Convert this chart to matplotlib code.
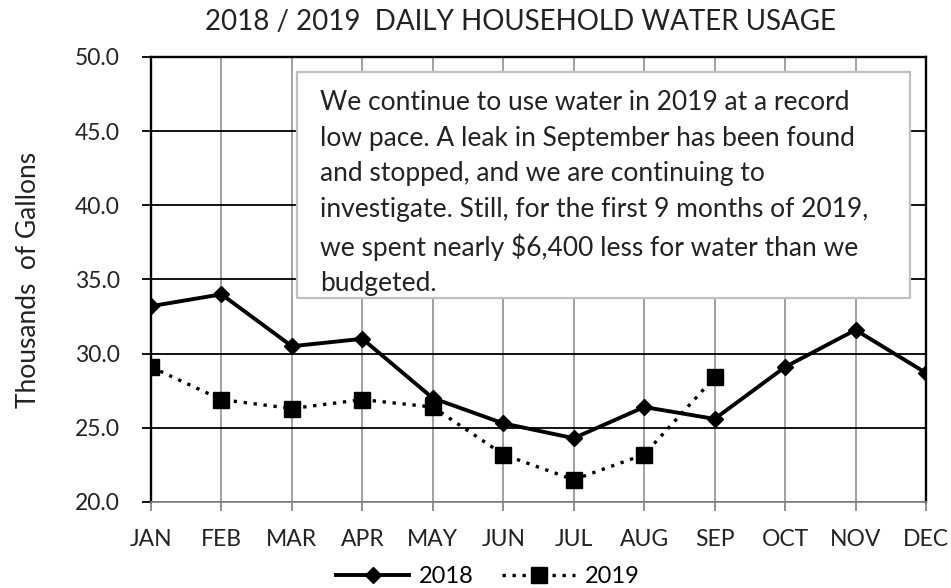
import numpy as np
import matplotlib.pyplot as plt
from matplotlib.patches import Rectangle

months = ["JAN", "FEB", "MAR", "APR", "MAY", "JUN",
          "JUL", "AUG", "SEP", "OCT", "NOV", "DEC"]
usage_2018 = [33.2, 34.0, 30.5, 31.0, 27.0, 25.3, 24.3, 26.4, 25.6, 29.1, 31.6, 28.7]
usage_2019 = [29.1, 26.9, 26.3, 26.9, 26.4, 23.2, 21.5, 23.2, 28.4]
y_ticks = [20.0, 25.0, 30.0, 35.0, 40.0, 45.0, 50.0]

note = ("We continue to use water in 2019 at a record\n"
        "low pace. A leak in September has been found\n"
        "and stopped, and we are continuing to\n"
        "investigate. Still, for the first 9 months of 2019,\n"
        "we spent nearly $6,400 less for water than we\n"
        "budgeted.")

plt.rcParams['font.family'] = ['Lato', 'DejaVu Sans']
txt = "#222222"

fig = plt.figure(figsize=(9.51, 5.88), dpi=100)
ax = fig.add_axes([0.1588, 0.1463, 0.9737 - 0.1588, 0.9031 - 0.1463])

x = np.arange(len(months))
ax.plot(x, usage_2018, color="black", lw=2.8, marker="D", ms=8,
        label="2018", zorder=4)
ax.plot(x[:len(usage_2019)], usage_2019, color="black", lw=2.4, ls=(0, (1, 2)),
        marker="s", ms=11, label="2019", zorder=4)

ax.set_xlim(0, len(months) - 1)
ax.set_ylim(20, 50)
ax.set_xticks(x)
ax.set_xticklabels(months)
ax.set_yticks(y_ticks)
ax.set_yticklabels([f"{v:.1f}" for v in y_ticks])
ax.tick_params(axis="both", labelsize=16.5, colors="black", labelcolor=txt,
               length=6.5, width=1.3, direction="out")
ax.tick_params(axis="x", pad=13, color="#888888")
ax.tick_params(axis="y", pad=16)

ax.grid(axis="y", color="black", lw=1.3, zorder=0)
ax.grid(axis="x", color="#999999", lw=1.3, zorder=0)
ax.set_axisbelow(True)
for s in ["left", "right", "top"]:
    ax.spines[s].set_color("black")
    ax.spines[s].set_linewidth(1.7)
ax.spines["bottom"].set_color("#888888")
ax.spines["bottom"].set_linewidth(1.3)

ax.set_ylabel("Thousands  of Gallons", fontsize=19, color=txt, labelpad=24)
fig.text(0.547, 0.962, "2018 / 2019  DAILY HOUSEHOLD WATER USAGE",
         ha="center", va="center", fontsize=20, color=txt)

ax.add_patch(Rectangle((0.188, 0.458), 0.791, 0.508, transform=ax.transAxes,
                       fc="white", ec="#c0c0c0", lw=1.6, zorder=5))
ax.text(0.218, 0.925, note, transform=ax.transAxes, ha="left", va="top",
        fontsize=19, color=txt, linespacing=1.52, zorder=6)

fig.legend(loc="lower center", bbox_to_anchor=(0.513, -0.035), ncol=2,
           frameon=False, fontsize=17, handlelength=3.1, columnspacing=1.2,
           handletextpad=0.4)

fig.savefig("out.png", dpi=100)
